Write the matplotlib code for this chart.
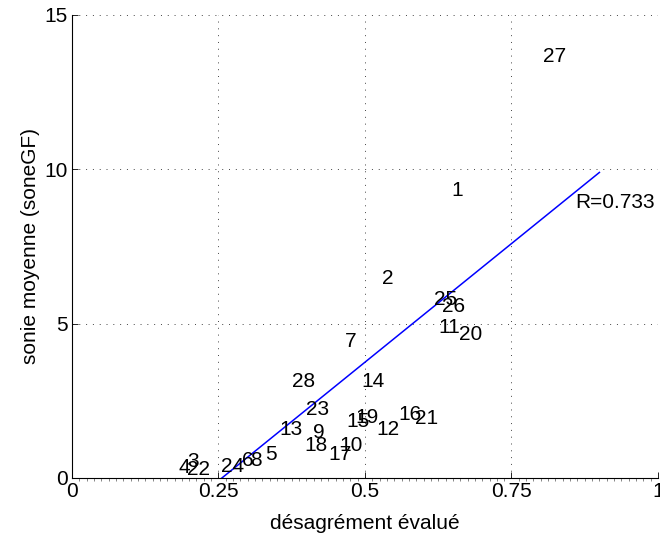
import numpy as np
import matplotlib
matplotlib.use("Agg")
import matplotlib.pyplot as plt
from matplotlib.ticker import MultipleLocator

plt.rcParams['font.family'] = ['Liberation Sans', 'DejaVu Sans']

# label number, x (désagrément), y (sonie)
labels = ['1', '2', '3', '4', '5', '6', '7', '8', '9', '10',
          '11', '12', '13', '14', '15', '16', '17', '18', '19', '20',
          '21', '22', '23', '24', '25', '26', '27', '28']
xs = [0.648, 0.529, 0.196, 0.181, 0.329, 0.290, 0.466, 0.304, 0.411, 0.457,
      0.625, 0.520, 0.354, 0.493, 0.469, 0.557, 0.437, 0.396, 0.483, 0.661,
      0.585, 0.196, 0.399, 0.255, 0.618, 0.631, 0.803, 0.375]
ys = [9.32, 6.45, 0.53, 0.33, 0.75, 0.58, 4.42, 0.56, 1.47, 1.04,
      4.86, 1.58, 1.56, 3.12, 1.83, 2.04, 0.75, 1.04, 1.97, 4.64,
      1.94, 0.28, 2.23, 0.37, 5.77, 5.56, 13.67, 3.12]

# regression line
slope = 15.37
intercept = -3.935
fit_x = [0.0, 0.9]
r_text = 'R=0.733'
r_pos = (0.858, 8.92)

fig = plt.figure(figsize=(6.6, 5.34), dpi=100)
ax = fig.add_axes([0.109, 0.105, 0.888, 0.867])

for lab, x, y in zip(labels, xs, ys):
    ax.text(x, y, lab, ha='left', va='center', fontsize=15)

fx = np.array(fit_x)
ax.plot(fx, slope * fx + intercept, color='#0000ff', linewidth=1.1)
ax.text(r_pos[0], r_pos[1], r_text, ha='left', va='center', fontsize=15)

ax.set_xlim(0, 1)
ax.set_ylim(0, 15)
ax.set_xticks([0, 0.25, 0.5, 0.75, 1])
ax.set_xticklabels(['0', '0.25', '0.5', '0.75', '1'])
ax.set_yticks([0, 5, 10, 15])
ax.xaxis.set_minor_locator(MultipleLocator(0.0125))
ax.tick_params(axis='both', which='major', direction='in', length=4, width=0.6,
               labelsize=15, pad=3)
ax.tick_params(axis='x', which='minor', direction='out', length=2, width=0.5,
               color='#555555')
ax.grid(True, which='major', color='#444444', linestyle=(0, (1, 6)), linewidth=0.7)
ax.set_axisbelow(True)

for s in ['top', 'right']:
    ax.spines[s].set_visible(False)
for s in ['left', 'bottom']:
    ax.spines[s].set_linewidth(0.8)

ax.set_xlabel('désagrément évalué', fontsize=15, labelpad=9)
ax.set_ylabel('sonie moyenne (soneGF)', fontsize=15, labelpad=3)

fig.savefig('out.png', dpi=100)
